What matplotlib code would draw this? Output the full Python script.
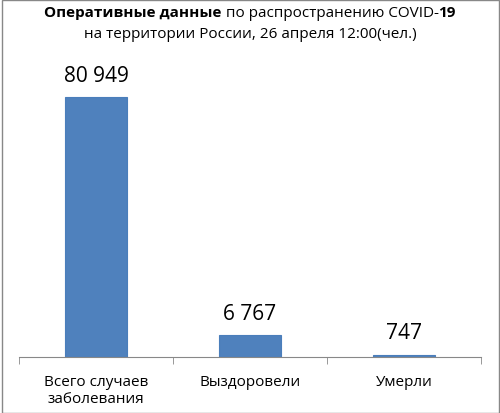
import matplotlib
matplotlib.use("Agg")
import matplotlib.pyplot as plt
from matplotlib.patches import Rectangle

categories = ["Всего случаев\nзаболевания", "Выздоровели", "Умерли"]
values = [80949, 6767, 747]
labels = ["80 949", "6 767", "747"]

plt.rcParams['font.family'] = ['Open Sans', 'DejaVu Sans']
fig = plt.figure(figsize=(5.0, 4.14), dpi=100)
W, H = 500, 414
ax = fig.add_axes([19/W, 1-358/H, (481-19)/W, (358-69)/H])
x = range(len(values))
ax.bar(x, values, width=0.4, color="#4F81BD", edgecolor="#4A7EBB", linewidth=0.8)
ax.set_xlim(-0.5, 2.5)
ax.set_ylim(0, 90000)
for xi, v, l in zip(x, values, labels):
    ax.text(xi, v + 3500, l, ha="center", va="bottom", fontsize=15)
ax.set_xticks(list(x))
ax.set_xticklabels(categories, fontsize=11)
ax.set_xticks([-0.5, 0.5, 1.5, 2.5], minor=True)
ax.tick_params(axis="x", which="major", length=0, pad=12)
ax.tick_params(axis="x", which="minor", length=5, color="#888888")
ax.set_yticks([])
for s in ["top", "right", "left"]:
    ax.spines[s].set_visible(False)
ax.spines["bottom"].set_color("#888888")
fig.text(0.5, 1-20/H, "", ha="center")
t1 = fig.text(0.5, 1-12/H, "", ha="center", va="center")
# Title with bold parts
from matplotlib.offsetbox import TextArea, HPacker, AnchoredOffsetbox, VPacker
fs = 11
line1 = HPacker(children=[
    TextArea("Оперативные данные", textprops=dict(fontsize=fs, fontweight="bold")),
    TextArea(" по распространению COVID-", textprops=dict(fontsize=fs)),
    TextArea("19", textprops=dict(fontsize=fs, fontweight="bold")),
], align="baseline", pad=0, sep=0)
line2 = TextArea("на территории России, 26 апреля 12:00(чел.)", textprops=dict(fontsize=fs))
box = VPacker(children=[line1, line2], align="center", pad=0, sep=4)
ab = AnchoredOffsetbox(loc="upper center", child=box, frameon=False,
                       bbox_to_anchor=(0.5, 1-6/H), bbox_transform=fig.transFigure, pad=0, borderpad=0)
fig.add_artist(ab)
fig.add_artist(Rectangle((0.003, 0), 0.994, 0.997, transform=fig.transFigure, fill=False, edgecolor="#888888", linewidth=1))
fig.savefig("out.png", dpi=100)
